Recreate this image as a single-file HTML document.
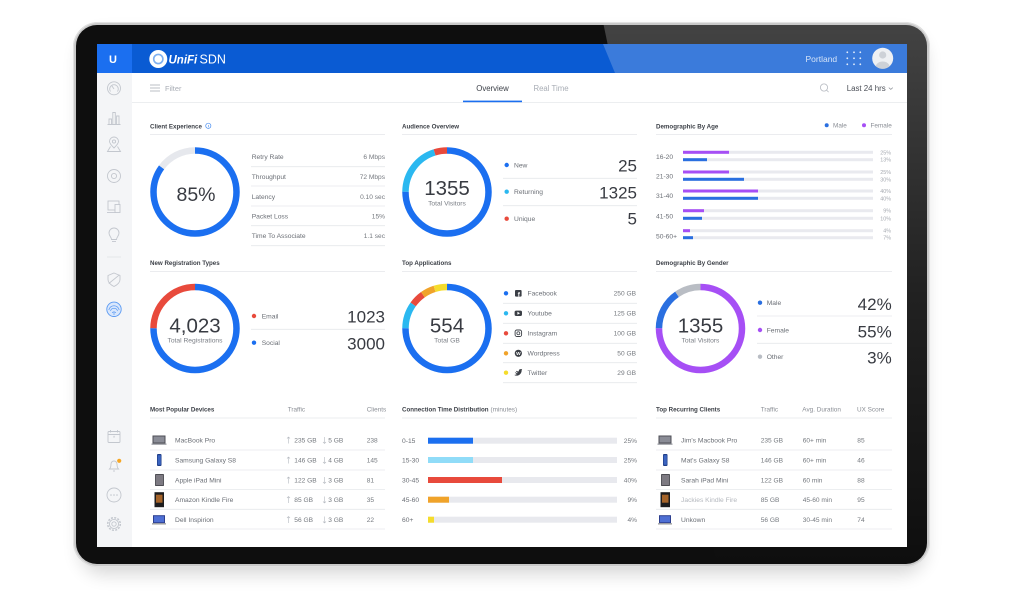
<!DOCTYPE html>
<html><head><meta charset="utf-8">
<style>
html,body{margin:0;padding:0;background:#fff;}
svg{display:block}
text{font-family:"Liberation Sans",sans-serif;}
.t{font-size:6.2px;font-weight:bold;fill:#3d4148}
.h{font-size:6.4px;fill:#8a8e95}
.l{font-size:6.7px;fill:#6b6f76}
.v{font-size:6.6px;fill:#75797f}
.big{font-size:17px;fill:#383b42}
.sub{font-size:6.7px;fill:#7a7e85}
.p{font-size:5.4px;fill:#a5a9b0}
</style></head><body>
<svg width="1024" height="612" viewBox="0 0 1024 612" xmlns="http://www.w3.org/2000/svg">
<defs>
<filter id="sh" x="-10%" y="-10%" width="120%" height="130%"><feGaussianBlur stdDeviation="9"/></filter>
<linearGradient id="gl" x1="0" y1="0" x2="0" y2="1"><stop offset="0" stop-color="#fff" stop-opacity="0.22"/><stop offset="0.5" stop-color="#fff" stop-opacity="0.08"/><stop offset="1" stop-color="#fff" stop-opacity="0"/></linearGradient>
<clipPath id="tab"><rect x="76" y="25" width="851" height="539" rx="21"/></clipPath>
<clipPath id="av"><circle cx="882.7" cy="58.3" r="10.5"/></clipPath>
</defs>
<rect width="1024" height="612" fill="#fff"/>
<rect x="80" y="34" width="845" height="540" rx="24" fill="#000" opacity="0.16" filter="url(#sh)"/>
<rect x="73" y="22" width="857" height="545" rx="25" fill="#c9c9c9"/>
<rect x="73.5" y="22.5" width="856" height="544" rx="25" fill="none" stroke="#e2e2e2" stroke-width="1"/>
<rect x="76" y="25" width="851" height="539" rx="21" fill="#0e0e0e"/>
<polygon points="603,22 930,22 930,566 717,566" fill="url(#gl)" clip-path="url(#tab)"/>
<rect x="97" y="44" width="810" height="503" fill="#fff"/>

<!-- header -->
<rect x="97" y="44" width="810" height="29" fill="#0a5bd3"/>
<polygon points="603,44 907,44 907,73 615,73" fill="#fff" opacity="0.2"/>
<rect x="97" y="44" width="35" height="29" fill="#1b6ff0"/>
<text x="113" y="63" font-size="11" font-weight="bold" fill="#fff" text-anchor="middle">U</text>
<circle cx="158.3" cy="59" r="9" fill="#fff"/>
<circle cx="158.3" cy="59" r="4.6" fill="none" stroke="#7fb0f0" stroke-width="1.6"/>
<text x="168.5" y="63.5" font-size="11.5" font-weight="bold" font-style="italic" fill="#fff">UniFi</text>
<text x="199.5" y="63.5" font-size="12.5" fill="#fff">SDN</text>
<text x="805.5" y="62" font-size="8.5" fill="#d5e4f8">Portland</text>
<g fill="#e3edfb">
<circle cx="847.3" cy="52.3" r="0.9"/><circle cx="854" cy="52.3" r="0.9"/><circle cx="860.3" cy="52.3" r="0.9"/>
<circle cx="847.3" cy="58.3" r="0.9"/><circle cx="854" cy="58.3" r="0.9"/><circle cx="860.3" cy="58.3" r="0.9"/>
<circle cx="847.3" cy="64.3" r="0.9"/><circle cx="854" cy="64.3" r="0.9"/><circle cx="860.3" cy="64.3" r="0.9"/>
</g>
<circle cx="882.7" cy="58.3" r="10.5" fill="#eef0f3"/>
<g clip-path="url(#av)" fill="#cdd1d7">
<circle cx="882.7" cy="55" r="3.6"/>
<ellipse cx="882.7" cy="67" rx="7" ry="5.5"/>
</g>

<!-- sidebar -->
<rect x="97" y="73" width="35" height="474" fill="#f4f5f7"/>
<g fill="none" stroke="#c3c7ce" stroke-width="0.9">
<circle cx="114" cy="88.3" r="6.5"/>
<path d="M110.5 91.5 A4.3 4.3 0 1 1 117.5 91.5"/>
<line x1="114" y1="89" x2="111.8" y2="85.8"/>
<path d="M107.5 124.5 H120.5 M109 124.5 V119 H111.5 V124.5 M112.8 124.5 V112.5 H115.3 V124.5 M116.6 124.5 V116 H119 V124.5"/>
<path d="M114 148 C110.5 144.5 109.5 143 109.5 141.5 A4.5 4.5 0 0 1 118.5 141.5 C118.5 143 117.5 144.5 114 148 Z"/>
<circle cx="114" cy="141.5" r="1.6"/>
<path d="M110.5 146.5 L107.5 151.5 H120.5 L117.5 146.5"/>
<circle cx="114" cy="176" r="6.5"/><circle cx="114" cy="176" r="2.6"/>
<rect x="108" y="201" width="11" height="9"/>
<path d="M107 212.5 H116"/>
<rect x="115" y="204.5" width="5" height="8" fill="#f4f5f7"/>
<path d="M111.5 239.5 C111.5 237 109 236 109 233 A5 5 0 0 1 119 233 C119 236 116.5 237 116.5 239.5 Z"/>
<path d="M112 241.5 H116"/>
<path d="M114 273 L120 275.5 V279.5 C120 283 117 285 114 286.5 C111 285 108 283 108 279.5 V275.5 Z"/>
<path d="M108.8 283.5 L119.5 274.8"/>
<rect x="108" y="431.5" width="12" height="11" rx="1"/>
<path d="M108 434.5 H120 M110.5 430 V432.5 M117.5 430 V432.5"/>
<path d="M109.5 469 H118.5 C117 467.5 117 466 117 464 A3 3 0 0 0 111 464 C111 466 111 467.5 109.5 469 Z"/>
<path d="M113 471 H115"/>
<circle cx="114" cy="495" r="7"/>
<circle cx="114" cy="524" r="6.3" stroke-dasharray="2 1.3" stroke-width="1.5"/>
<circle cx="114" cy="524" r="4.6"/>
<circle cx="114" cy="524" r="2.2"/>
</g>
<line x1="107" y1="257" x2="121" y2="257" stroke="#dfe2e6" stroke-width="0.8"/>
<text x="114" y="440" font-size="6" fill="#c3c7ce" text-anchor="middle">*</text>
<circle cx="119.2" cy="460.8" r="2.1" fill="#f6a623"/>
<g fill="#c3c7ce"><circle cx="111" cy="495" r="0.8"/><circle cx="114" cy="495" r="0.8"/><circle cx="117" cy="495" r="0.8"/></g>
<circle cx="114" cy="309.3" r="7.2" fill="#d9e7fc" stroke="#5b9af2" stroke-width="0.9"/>
<g fill="none" stroke="#5b9af2" stroke-width="0.7">
<path d="M110.5 311 A3.6 3.6 0 0 1 117.5 311"/>
<path d="M108.8 310 A5.3 5.3 0 0 1 119.2 310"/>
<path d="M112.3 313 A1.8 1.8 0 0 1 115.7 313"/>
<line x1="114" y1="312" x2="114" y2="315"/>
</g>

<!-- filter bar -->
<line x1="132" y1="102.5" x2="907" y2="102.5" stroke="#e6e8eb" stroke-width="0.8"/>
<g stroke="#aab0b8" stroke-width="0.8">
<line x1="150" y1="85" x2="160" y2="85"/><line x1="150" y1="88" x2="160" y2="88"/><line x1="150" y1="91" x2="160" y2="91"/>
</g>
<text x="165" y="91" font-size="7.4" fill="#a8adb5">Filter</text>
<text x="492.5" y="91" font-size="7.8" fill="#3c4048" text-anchor="middle">Overview</text>
<rect x="463" y="100.6" width="59" height="1.6" fill="#1b6ff0"/>
<text x="551" y="91" font-size="7.8" fill="#a8adb5" text-anchor="middle">Real Time</text>
<circle cx="824" cy="87.5" r="3.6" fill="none" stroke="#b5b9c0" stroke-width="0.8"/>
<line x1="826.6" y1="90.1" x2="828.6" y2="92.1" stroke="#b5b9c0" stroke-width="0.8"/>
<text x="846.7" y="91" font-size="7.9" fill="#4a4e56">Last 24 hrs</text>
<path d="M888.8 87.6 L890.8 89.4 L892.8 87.6" fill="none" stroke="#8a8e95" stroke-width="0.7"/>

<!-- ROW 1 -->
<text x="150" y="128.3" class="t">Client Experience</text>
<circle cx="208.3" cy="125.8" r="2.6" fill="none" stroke="#4a8ef0" stroke-width="0.7"/>
<line x1="208.3" y1="125" x2="208.3" y2="127.3" stroke="#4a8ef0" stroke-width="0.6"/>
<line x1="150" y1="134.5" x2="385" y2="134.5" stroke="#e4e6ea" stroke-width="0.8"/>
<circle cx="195" cy="192" r="41.5" fill="none" stroke="#1b6ff0" stroke-width="6.5" stroke-dasharray="221.64 260.75" transform="rotate(-90 195 192)"/>
<circle cx="195" cy="192" r="41.5" fill="none" stroke="#e6e8ed" stroke-width="6.5" stroke-dasharray="39.11 260.75" stroke-dashoffset="-221.64" transform="rotate(-90 195 192)"/>
<text x="196" y="201" font-size="19.5" fill="#383b42" text-anchor="middle">85%</text>
<g stroke="#e6e8eb" stroke-width="0.8">
<line x1="251" y1="166.7" x2="385" y2="166.7"/><line x1="251" y1="186" x2="385" y2="186"/><line x1="251" y1="206" x2="385" y2="206"/><line x1="251" y1="225.7" x2="385" y2="225.7"/><line x1="251" y1="245.7" x2="385" y2="245.7"/>
</g>
<text x="251.7" y="159" class="l">Retry Rate</text><text x="385" y="159" class="v" text-anchor="end">6 Mbps</text>
<text x="251.7" y="179" class="l">Throughput</text><text x="385" y="179" class="v" text-anchor="end">72 Mbps</text>
<text x="251.7" y="199" class="l">Latency</text><text x="385" y="199" class="v" text-anchor="end">0.10 sec</text>
<text x="251.7" y="218.5" class="l">Packet Loss</text><text x="385" y="218.5" class="v" text-anchor="end">15%</text>
<text x="251.7" y="238" class="l">Time To Associate</text><text x="385" y="238" class="v" text-anchor="end">1.1 sec</text>

<text x="402" y="128.3" class="t">Audience Overview</text>
<line x1="402" y1="134.5" x2="637" y2="134.5" stroke="#e4e6ea" stroke-width="0.8"/>
<circle cx="447" cy="192" r="41.5" fill="none" stroke="#1b6ff0" stroke-width="6.5" stroke-dasharray="195.56 260.75" transform="rotate(-90 447 192)"/>
<circle cx="447" cy="192" r="41.5" fill="none" stroke="#2bb8f0" stroke-width="6.5" stroke-dasharray="52.15 260.75" stroke-dashoffset="-195.56" transform="rotate(-90 447 192)"/>
<circle cx="447" cy="192" r="41.5" fill="none" stroke="#e84a3c" stroke-width="6.5" stroke-dasharray="13.04 260.75" stroke-dashoffset="-247.71" transform="rotate(-90 447 192)"/>
<text x="447" y="195" font-size="20.5" fill="#383b42" text-anchor="middle">1355</text>
<text x="447" y="205.5" class="sub" text-anchor="middle">Total Visitors</text>
<line x1="503" y1="178.3" x2="637" y2="178.3" stroke="#e6e8eb" stroke-width="0.8"/>
<line x1="503" y1="205.7" x2="637" y2="205.7" stroke="#e6e8eb" stroke-width="0.8"/>
<circle cx="506.7" cy="165" r="2.2" fill="#1b6ff0"/><text x="514" y="167.3" class="l">New</text><text x="637" y="171.7" class="big" text-anchor="end">25</text>
<circle cx="506.7" cy="191.7" r="2.2" fill="#2bb8f0"/><text x="514" y="194" class="l">Returning</text><text x="637" y="198.3" class="big" text-anchor="end">1325</text>
<circle cx="506.7" cy="218.7" r="2.2" fill="#e84a3c"/><text x="514" y="221" class="l">Unique</text><text x="637" y="224.5" class="big" text-anchor="end">5</text>

<text x="656" y="128.3" class="t">Demographic By Age</text>
<circle cx="826.7" cy="125.3" r="2" fill="#2a6fe0"/><text x="833" y="127.6" class="h">Male</text>
<circle cx="864" cy="125.3" r="2" fill="#a64ff5"/><text x="870.5" y="127.6" class="h">Female</text>
<line x1="656" y1="134.5" x2="892" y2="134.5" stroke="#e4e6ea" stroke-width="0.8"/>
<g fill="#e9eaef">
<rect x="683" y="150.8" width="190" height="3"/><rect x="683" y="158.2" width="190" height="3"/>
<rect x="683" y="170.5" width="190" height="3"/><rect x="683" y="177.8" width="190" height="3"/>
<rect x="683" y="189.5" width="190" height="3"/><rect x="683" y="196.8" width="190" height="3"/>
<rect x="683" y="209.2" width="190" height="3"/><rect x="683" y="216.8" width="190" height="3"/>
<rect x="683" y="229.2" width="190" height="3"/><rect x="683" y="236.2" width="190" height="3"/>
</g>
<g fill="#a64ff5">
<rect x="683" y="150.8" width="46" height="3"/><rect x="683" y="170.5" width="46" height="3"/><rect x="683" y="189.5" width="75" height="3"/><rect x="683" y="209.2" width="21" height="3"/><rect x="683" y="229.2" width="7" height="3"/>
</g>
<g fill="#2a6fe0">
<rect x="683" y="158.2" width="24" height="3"/><rect x="683" y="177.8" width="61" height="3"/><rect x="683" y="196.8" width="75" height="3"/><rect x="683" y="216.8" width="19" height="3"/><rect x="683" y="236.2" width="10" height="3"/>
</g>
<text x="656" y="159" class="l">16-20</text>
<text x="656" y="178.7" class="l">21-30</text>
<text x="656" y="198" class="l">31-40</text>
<text x="656" y="218.3" class="l">41-50</text>
<text x="656" y="238.3" class="l">50-60+</text>
<text x="891" y="154.3" class="p" text-anchor="end">25%</text><text x="891" y="161.7" class="p" text-anchor="end">13%</text>
<text x="891" y="174" class="p" text-anchor="end">25%</text><text x="891" y="181.3" class="p" text-anchor="end">30%</text>
<text x="891" y="193" class="p" text-anchor="end">40%</text><text x="891" y="200.3" class="p" text-anchor="end">40%</text>
<text x="891" y="212.7" class="p" text-anchor="end">9%</text><text x="891" y="220.3" class="p" text-anchor="end">10%</text>
<text x="891" y="232.7" class="p" text-anchor="end">4%</text><text x="891" y="239.7" class="p" text-anchor="end">7%</text>

<!-- ROW 2 -->
<text x="150" y="265" class="t">New Registration Types</text>
<line x1="150" y1="271.5" x2="385" y2="271.5" stroke="#e4e6ea" stroke-width="0.8"/>
<circle cx="195" cy="328.5" r="41.5" fill="none" stroke="#1b6ff0" stroke-width="6.5" stroke-dasharray="195.56 260.75" transform="rotate(-90 195 328.5)"/>
<circle cx="195" cy="328.5" r="41.5" fill="none" stroke="#e84a3c" stroke-width="6.5" stroke-dasharray="65.19 260.75" stroke-dashoffset="-195.56" transform="rotate(-90 195 328.5)"/>
<text x="195" y="332.3" font-size="20.5" fill="#383b42" text-anchor="middle">4,023</text>
<text x="195" y="342.7" class="sub" text-anchor="middle">Total Registrations</text>
<line x1="251" y1="329.3" x2="385" y2="329.3" stroke="#e6e8eb" stroke-width="0.8"/>
<circle cx="254" cy="316" r="2.2" fill="#e84a3c"/><text x="261.7" y="318.3" class="l">Email</text><text x="385" y="322.7" class="big" text-anchor="end">1023</text>
<circle cx="254" cy="342.7" r="2.2" fill="#1b6ff0"/><text x="261.7" y="345" class="l">Social</text><text x="385" y="349.3" class="big" text-anchor="end">3000</text>

<text x="402" y="265" class="t">Top Applications</text>
<line x1="402" y1="271.5" x2="637" y2="271.5" stroke="#e4e6ea" stroke-width="0.8"/>
<circle cx="447" cy="328.5" r="41.5" fill="none" stroke="#1b6ff0" stroke-width="6.5" stroke-dasharray="195.56 260.75" transform="rotate(-90 447 328.5)"/>
<circle cx="447" cy="328.5" r="41.5" fill="none" stroke="#2bb8f0" stroke-width="6.5" stroke-dasharray="25.35 260.75" stroke-dashoffset="-195.56" transform="rotate(-90 447 328.5)"/>
<circle cx="447" cy="328.5" r="41.5" fill="none" stroke="#e84a3c" stroke-width="6.5" stroke-dasharray="13.76 260.75" stroke-dashoffset="-220.91" transform="rotate(-90 447 328.5)"/>
<circle cx="447" cy="328.5" r="41.5" fill="none" stroke="#f0a32a" stroke-width="6.5" stroke-dasharray="13.04 260.75" stroke-dashoffset="-234.67" transform="rotate(-90 447 328.5)"/>
<circle cx="447" cy="328.5" r="41.5" fill="none" stroke="#f5dc2c" stroke-width="6.5" stroke-dasharray="13.04 260.75" stroke-dashoffset="-247.71" transform="rotate(-90 447 328.5)"/>
<text x="447" y="332.3" font-size="20.5" fill="#383b42" text-anchor="middle">554</text>
<text x="447" y="342.7" class="sub" text-anchor="middle">Total GB</text>
<g stroke="#e6e8eb" stroke-width="0.8">
<line x1="503" y1="303.3" x2="637" y2="303.3"/><line x1="503" y1="323.3" x2="637" y2="323.3"/><line x1="503" y1="343.3" x2="637" y2="343.3"/><line x1="503" y1="362.7" x2="637" y2="362.7"/><line x1="503" y1="382.7" x2="637" y2="382.7"/>
</g>
<circle cx="506" cy="293.3" r="2.2" fill="#1b6ff0"/>
<circle cx="506" cy="313.3" r="2.2" fill="#2bb8f0"/>
<circle cx="506" cy="333.3" r="2.2" fill="#e84a3c"/>
<circle cx="506" cy="353.3" r="2.2" fill="#f0a32a"/>
<circle cx="506" cy="372.7" r="2.2" fill="#f5dc2c"/>
<rect x="515" y="290" width="6.6" height="6.6" rx="1" fill="#3b3f46"/>
<text x="518.8" y="296.6" font-size="6.5" font-weight="bold" fill="#fff" text-anchor="middle">f</text>
<rect x="514.6" y="310.6" width="7.4" height="5.4" rx="1.6" fill="#3b3f46"/>
<path d="M517.4 311.8 L520 313.3 L517.4 314.8 Z" fill="#fff"/>
<rect x="515.1" y="330" width="6.5" height="6.5" rx="1.8" fill="none" stroke="#3b3f46" stroke-width="0.9"/>
<circle cx="518.35" cy="333.25" r="1.5" fill="none" stroke="#3b3f46" stroke-width="0.8"/>
<circle cx="518.35" cy="353.3" r="3.6" fill="#3b3f46"/>
<text x="518.35" y="355.2" font-size="4.8" font-weight="bold" fill="#fff" text-anchor="middle">W</text>
<path d="M514.8 371.8 C516 373 517.2 373.3 518 373 C516.5 372.5 516 371.5 516.1 370.8 C517 371.3 518 371.5 518.8 371.4 C518.6 369.5 520 368.8 521 369.3 L522.2 368.9 L521.7 370 C521.8 373.5 519 376.2 515.6 375.6 C515 375.4 514.6 375.2 514.2 374.9 C515.3 374.9 516.2 374.6 516.9 374 C515.9 373.8 515.2 373 514.8 371.8 Z" fill="#3b3f46"/>
<text x="527.5" y="295.6" class="l">Facebook</text><text x="636" y="295.6" class="v" text-anchor="end">250 GB</text>
<text x="527.5" y="315.6" class="l">Youtube</text><text x="636" y="315.6" class="v" text-anchor="end">125 GB</text>
<text x="527.5" y="335.6" class="l">Instagram</text><text x="636" y="335.6" class="v" text-anchor="end">100 GB</text>
<text x="527.5" y="355.6" class="l">Wordpress</text><text x="636" y="355.6" class="v" text-anchor="end">50 GB</text>
<text x="527.5" y="375" class="l">Twitter</text><text x="636" y="375" class="v" text-anchor="end">29 GB</text>

<text x="656" y="265" class="t">Demographic By Gender</text>
<line x1="656" y1="271.5" x2="892" y2="271.5" stroke="#e4e6ea" stroke-width="0.8"/>
<circle cx="700.5" cy="328.5" r="41.5" fill="none" stroke="#a64ff5" stroke-width="6.5" stroke-dasharray="195.56 260.75" transform="rotate(-90 700.5 328.5)"/>
<circle cx="700.5" cy="328.5" r="41.5" fill="none" stroke="#2a6fe0" stroke-width="6.5" stroke-dasharray="39.84 260.75" stroke-dashoffset="-195.56" transform="rotate(-90 700.5 328.5)"/>
<circle cx="700.5" cy="328.5" r="41.5" fill="none" stroke="#b9bdc4" stroke-width="6.5" stroke-dasharray="25.35 260.75" stroke-dashoffset="-235.40" transform="rotate(-90 700.5 328.5)"/>
<text x="700.5" y="332.3" font-size="20.5" fill="#383b42" text-anchor="middle">1355</text>
<text x="700.5" y="342.7" class="sub" text-anchor="middle">Total Visitors</text>
<line x1="757" y1="316" x2="892" y2="316" stroke="#e6e8eb" stroke-width="0.8"/>
<line x1="757" y1="343.3" x2="892" y2="343.3" stroke="#e6e8eb" stroke-width="0.8"/>
<circle cx="760" cy="302.7" r="2.2" fill="#2a6fe0"/><text x="766.7" y="305" class="l">Male</text><text x="891.7" y="310" class="big" text-anchor="end">42%</text>
<circle cx="760" cy="330" r="2.2" fill="#a64ff5"/><text x="766.7" y="332.3" class="l">Female</text><text x="891.7" y="337.3" class="big" text-anchor="end">55%</text>
<circle cx="760" cy="356.7" r="2.2" fill="#b9bdc4"/><text x="766.7" y="359" class="l">Other</text><text x="891.7" y="363.5" class="big" text-anchor="end">3%</text>

<!-- ROW 3 -->
<text x="150" y="411.5" class="t">Most Popular Devices</text>
<text x="287.7" y="411.5" class="h">Traffic</text>
<text x="366.7" y="411.5" class="h">Clients</text>
<line x1="150" y1="418" x2="385" y2="418" stroke="#e4e6ea" stroke-width="0.8"/>
<g stroke="#e6e8eb" stroke-width="0.8">
<line x1="150" y1="450" x2="385" y2="450"/><line x1="150" y1="470" x2="385" y2="470"/><line x1="150" y1="489.5" x2="385" y2="489.5"/><line x1="150" y1="509.3" x2="385" y2="509.3"/><line x1="150" y1="529" x2="385" y2="529"/>
</g>
<rect x="152.5" y="435.5" width="13" height="8" fill="#4d4e56"/><rect x="153.5" y="436.5" width="11" height="6" fill="#8a8c96"/><rect x="151.5" y="443.5" width="15" height="1.3" fill="#9a9ca3"/>
<rect x="157" y="454" width="4.5" height="12" rx="1" fill="#1f3d86"/><rect x="157.7" y="455.2" width="3.1" height="9.6" fill="#3b64c0"/>
<rect x="155" y="474" width="9" height="12" rx="0.8" fill="#4d4d53"/><rect x="155.8" y="475" width="7.4" height="10" fill="#7d7a82"/>
<rect x="154.5" y="492.2" width="9.5" height="15" fill="#1d1d1f"/><rect x="156" y="494.7" width="6.5" height="8" fill="#a5642a"/>
<rect x="153" y="515.2" width="12" height="8" fill="#2d3f8f"/><rect x="154" y="516.2" width="10" height="6" fill="#4e6fd4"/><rect x="152" y="523.2" width="14" height="1.3" fill="#999"/>
<text x="175" y="442.4" class="l">MacBook Pro</text>
<text x="175" y="462.4" class="l">Samsung Galaxy S8</text>
<text x="175" y="482.4" class="l">Apple iPad Mini</text>
<text x="175" y="502" class="l">Amazon Kindle Fire</text>
<text x="175" y="522" class="l">Dell Inspirion</text>
<g stroke="#b5b9c0" stroke-width="0.6" fill="none">
<path d="M288.5 443.5 V437 M287 438.5 L288.5 437 L290 438.5"/>
<path d="M324.5 437 V443.5 M323 442 L324.5 443.5 L326 442"/>
<path d="M288.5 463.5 V457 M287 458.5 L288.5 457 L290 458.5"/>
<path d="M324.5 457 V463.5 M323 462 L324.5 463.5 L326 462"/>
<path d="M288.5 483.5 V477 M287 478.5 L288.5 477 L290 478.5"/>
<path d="M324.5 477 V483.5 M323 482 L324.5 483.5 L326 482"/>
<path d="M288.5 503 V496.5 M287 498 L288.5 496.5 L290 498"/>
<path d="M324.5 496.5 V503 M323 501.5 L324.5 503 L326 501.5"/>
<path d="M288.5 523 V516.5 M287 518 L288.5 516.5 L290 518"/>
<path d="M324.5 516.5 V523 M323 521.5 L324.5 523 L326 521.5"/>
</g>
<text x="294.3" y="442.4" class="v">235 GB</text><text x="328.3" y="442.4" class="v">5 GB</text><text x="366.7" y="442.4" class="v">238</text>
<text x="294.3" y="462.4" class="v">146 GB</text><text x="328.3" y="462.4" class="v">4 GB</text><text x="366.7" y="462.4" class="v">145</text>
<text x="294.3" y="482.4" class="v">122 GB</text><text x="328.3" y="482.4" class="v">3 GB</text><text x="366.7" y="482.4" class="v">81</text>
<text x="294.3" y="502" class="v">85 GB</text><text x="328.3" y="502" class="v">3 GB</text><text x="366.7" y="502" class="v">35</text>
<text x="294.3" y="522" class="v">56 GB</text><text x="328.3" y="522" class="v">3 GB</text><text x="366.7" y="522" class="v">22</text>

<text x="402" y="411.5" class="t">Connection Time Distribution</text>
<text x="490.5" y="411.5" class="h">(minutes)</text>
<line x1="402" y1="418" x2="637" y2="418" stroke="#e4e6ea" stroke-width="0.8"/>
<g fill="#e8e9ee">
<rect x="428" y="437.7" width="189" height="6"/><rect x="428" y="457" width="189" height="6"/><rect x="428" y="477" width="189" height="6"/><rect x="428" y="496.7" width="189" height="6"/><rect x="428" y="516.7" width="189" height="6"/>
</g>
<rect x="428" y="437.7" width="45" height="6" fill="#1b6ff0"/>
<rect x="428" y="457" width="45" height="6" fill="#90dcf8"/>
<rect x="428" y="477" width="74" height="6" fill="#e84a3c"/>
<rect x="428" y="496.7" width="21" height="6" fill="#f0a32a"/>
<rect x="428" y="516.7" width="6" height="6" fill="#f5dc2c"/>
<text x="402" y="443" class="l">0-15</text><text x="637" y="443" class="v" text-anchor="end">25%</text>
<text x="402" y="462.3" class="l">15-30</text><text x="637" y="462.3" class="v" text-anchor="end">25%</text>
<text x="402" y="482.3" class="l">30-45</text><text x="637" y="482.3" class="v" text-anchor="end">40%</text>
<text x="402" y="502" class="l">45-60</text><text x="637" y="502" class="v" text-anchor="end">9%</text>
<text x="402" y="522" class="l">60+</text><text x="637" y="522" class="v" text-anchor="end">4%</text>

<text x="656" y="411.5" class="t">Top Recurring Clients</text>
<text x="760.7" y="411.5" class="h">Traffic</text>
<text x="802.3" y="411.5" class="h">Avg. Duration</text>
<text x="857" y="411.5" class="h">UX Score</text>
<line x1="656" y1="418" x2="892" y2="418" stroke="#e4e6ea" stroke-width="0.8"/>
<g stroke="#e6e8eb" stroke-width="0.8">
<line x1="656" y1="450" x2="892" y2="450"/><line x1="656" y1="470" x2="892" y2="470"/><line x1="656" y1="489.5" x2="892" y2="489.5"/><line x1="656" y1="509.3" x2="892" y2="509.3"/><line x1="656" y1="529" x2="892" y2="529"/>
</g>
<rect x="658.5" y="435.5" width="13" height="8" fill="#4d4e56"/><rect x="659.5" y="436.5" width="11" height="6" fill="#8a8c96"/><rect x="657.5" y="443.5" width="15" height="1.3" fill="#9a9ca3"/>
<rect x="663" y="454" width="4.5" height="12" rx="1" fill="#1f3d86"/><rect x="663.7" y="455.2" width="3.1" height="9.6" fill="#3b64c0"/>
<rect x="661" y="474" width="9" height="12" rx="0.8" fill="#4d4d53"/><rect x="661.8" y="475" width="7.4" height="10" fill="#7d7a82"/>
<rect x="660.5" y="492.2" width="9.5" height="15" fill="#1d1d1f"/><rect x="662" y="494.7" width="6.5" height="8" fill="#a5642a"/>
<rect x="659" y="515.2" width="12" height="8" fill="#2d3f8f"/><rect x="660" y="516.2" width="10" height="6" fill="#4e6fd4"/><rect x="658" y="523.2" width="14" height="1.3" fill="#999"/>
<text x="681" y="442.4" class="l">Jim's Macbook Pro</text><text x="760.7" y="442.4" class="v">235 GB</text><text x="802.7" y="442.4" class="v">60+ min</text><text x="857.3" y="442.4" class="v">85</text>
<text x="681" y="462.4" class="l">Mat's Galaxy S8</text><text x="760.7" y="462.4" class="v">146 GB</text><text x="802.7" y="462.4" class="v">60+ min</text><text x="857.3" y="462.4" class="v">46</text>
<text x="681" y="482.4" class="l">Sarah iPad Mini</text><text x="760.7" y="482.4" class="v">122 GB</text><text x="802.7" y="482.4" class="v">60 min</text><text x="857.3" y="482.4" class="v">88</text>
<text x="681" y="502" class="l" style="fill:#b4b8be">Jackies Kindle Fire</text><text x="760.7" y="502" class="v">85 GB</text><text x="802.7" y="502" class="v">45-60 min</text><text x="857.3" y="502" class="v">95</text>
<text x="681" y="522" class="l">Unkown</text><text x="760.7" y="522" class="v">56 GB</text><text x="802.7" y="522" class="v">30-45 min</text><text x="857.3" y="522" class="v">74</text>
</svg>
</body></html>
